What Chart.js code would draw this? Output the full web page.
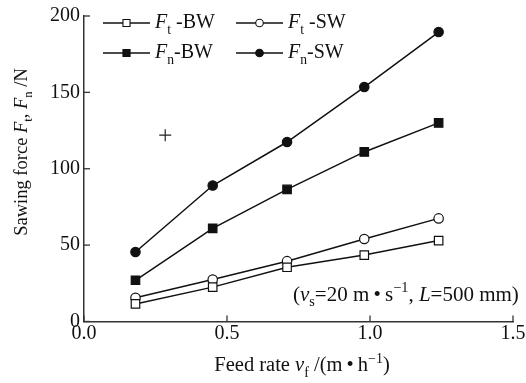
<!doctype html>
<html>
<head>
<title>Sawing force</title>
<script src="https://cdn.jsdelivr.net/npm/chart.js"></script>
<style>
  html, body { margin: 0; padding: 0; background: #fff; }
  #wrap { width: 526px; height: 383px; }
</style>
</head>
<body>
<div id="wrap"><canvas id="forces" width="526" height="383"></canvas></div>
<script>
// data
var feedRate = [0.18, 0.45, 0.71, 0.98, 1.24];
var ftBW = [11.5, 22.5, 35.5, 43.5, 53];
var ftSW = [15.5, 27.5, 39.5, 54, 67.5];
var fnBW = [27, 61, 86.5, 111, 130];
var fnSW = [45.5, 89, 117.5, 153.5, 189.5];
var strayMark = [{ x: 0.284, y: 122 }];
var xTicks = [0, 0.5, 1.0, 1.5];
var yTicks = [0, 50, 100, 150, 200];

var FONT = '"Liberation Serif", "DejaVu Serif", serif';

function pts(ys) {
  return feedRate.map(function (x, i) { return { x: x, y: ys[i] }; });
}

// text made of pieces: plain, italic, sub, sup
function segFont(s, size) {
  var sz = (s.sub || s.sup) ? size * 0.68 : size;
  return (s.it ? 'italic ' : '') + sz + 'px ' + FONT;
}
function drawRich(ctx, segs, x, y, size, align) {
  var w = 0;
  segs.forEach(function (s) { ctx.font = segFont(s, size); w += ctx.measureText(s.t).width; });
  var cx = align === 'center' ? x - w / 2 : x;
  ctx.textBaseline = 'middle';
  ctx.textAlign = 'left';
  ctx.fillStyle = '#111';
  segs.forEach(function (s) {
    ctx.font = segFont(s, size);
    var dy = s.sub ? size * 0.36 : (s.sup ? -size * 0.33 : 0);
    ctx.fillText(s.t, cx, y + dy);
    cx += ctx.measureText(s.t).width;
  });
}

var legendRows = [
  { ds: 0, col: 0, row: 0, label: [{ t: 'F', it: true }, { t: 't', sub: true }, { t: ' -BW' }] },
  { ds: 1, col: 1, row: 0, label: [{ t: 'F', it: true }, { t: 't', sub: true }, { t: ' -SW' }] },
  { ds: 2, col: 0, row: 1, label: [{ t: 'F', it: true }, { t: 'n', sub: true }, { t: '-BW' }] },
  { ds: 3, col: 1, row: 1, label: [{ t: 'F', it: true }, { t: 'n', sub: true }, { t: '-SW' }] }
];

var extras = {
  id: 'extras',
  afterDraw: function (chart) {
    var ctx = chart.ctx;
    var xs = chart.scales.x, ys = chart.scales.y;
    var area = chart.chartArea;
    ctx.save();
    // ticks point into the plot
    ctx.strokeStyle = '#333';
    ctx.lineWidth = 1.3;
    xTicks.forEach(function (v) {
      var px = xs.getPixelForValue(v);
      ctx.beginPath(); ctx.moveTo(px, area.bottom); ctx.lineTo(px, area.bottom - 6); ctx.stroke();
    });
    yTicks.forEach(function (v) {
      var py = ys.getPixelForValue(v);
      ctx.beginPath(); ctx.moveTo(area.left, py); ctx.lineTo(area.left + 6, py); ctx.stroke();
    });

    // legend, 2 x 2
    legendRows.forEach(function (r) {
      var ds = chart.data.datasets[r.ds];
      var x0 = r.col === 0 ? 103 : 236;
      var y0 = r.row === 0 ? 23 : 53;
      ctx.strokeStyle = '#111';
      ctx.lineWidth = 1.5;
      ctx.beginPath(); ctx.moveTo(x0, y0); ctx.lineTo(x0 + 47, y0); ctx.stroke();
      ctx.fillStyle = ds.pointBackgroundColor;
      ctx.lineWidth = 1.1;
      Chart.helpers.drawPoint(ctx, {
        pointStyle: ds.pointStyle, radius: ds.pointStyle === 'rect' ? 5 : 3.8, borderWidth: 1.1
      }, x0 + 23.5, y0);
      drawRich(ctx, r.label, x0 + 52, y0, 20, 'left');
    });

    // axis titles
    drawRich(ctx, [{ t: 'Feed rate ' }, { t: 'v', it: true }, { t: 'f', sub: true }, { t: ' /(m\u2009\u2022\u2009h' },
      { t: '\u22121', sup: true }, { t: ')' }], 302, 366, 20.5, 'center');
    ctx.save();
    ctx.translate(22, 152);
    ctx.rotate(-Math.PI / 2);
    drawRich(ctx, [{ t: 'Sawing force ' }, { t: 'F', it: true }, { t: 't', sub: true }, { t: ', ' },
      { t: 'F', it: true }, { t: 'n', sub: true }, { t: ' /N' }], 0, 0, 18.5, 'center');
    ctx.restore();

    // test condition note
    drawRich(ctx, [{ t: '(' }, { t: 'v', it: true }, { t: 's', sub: true }, { t: '=20 m\u2009\u2022\u2009s' },
      { t: '\u22121', sup: true }, { t: ', ' }, { t: 'L', it: true }, { t: '=500 mm)' }], 293, 295, 21, 'left');
    ctx.restore();
  }
};

function series(label, ys, style, fill) {
  return {
    label: label,
    data: pts(ys),
    borderColor: '#111',
    borderWidth: 1.5,
    pointStyle: style,
    pointRadius: style === 'rect' ? 6 : 4.7,
    pointBorderWidth: 1.2,
    pointBorderColor: '#111',
    pointBackgroundColor: fill,
    tension: 0
  };
}

new Chart(document.getElementById('forces').getContext('2d'), {
  type: 'line',
  data: {
    datasets: [
      series('Ft-BW', ftBW, 'rect', '#fff'),
      series('Ft-SW', ftSW, 'circle', '#fff'),
      series('Fn-BW', fnBW, 'rect', '#111'),
      series('Fn-SW', fnSW, 'circle', '#111'),
      {
        label: 'mark',
        data: strayMark,
        showLine: false,
        pointStyle: 'cross',
        pointRadius: 6,
        pointBorderWidth: 1.2,
        pointBorderColor: '#222',
        borderColor: '#222'
      }
    ]
  },
  plugins: [extras],
  options: {
    responsive: false,
    animation: false,
    layout: { padding: { left: 0, top: 15, right: 13, bottom: 0 } },
    plugins: { legend: { display: false }, tooltip: { enabled: false } },
    scales: {
      x: {
        type: 'linear',
        min: 0, max: 1.5,
        afterFit: function (s) { s.height = 61.5; },
        afterBuildTicks: function (s) { s.ticks = xTicks.map(function (v) { return { value: v }; }); },
        grid: { display: false, drawTicks: false },
        border: { display: true, color: '#333', width: 1.5 },
        ticks: {
          padding: 0,
          color: '#111',
          font: { family: FONT, size: 20 },
          callback: function (v) { return v.toFixed(1); }
        }
      },
      y: {
        min: 0, max: 200,
        afterFit: function (s) { s.width = 84; },
        afterBuildTicks: function (s) { s.ticks = yTicks.map(function (v) { return { value: v }; }); },
        grid: { display: false, drawTicks: false },
        border: { display: true, color: '#333', width: 1.5 },
        ticks: {
          padding: 4,
          color: '#111',
          font: { family: FONT, size: 20 }
        }
      }
    }
  }
});
</script>
</body>
</html>
